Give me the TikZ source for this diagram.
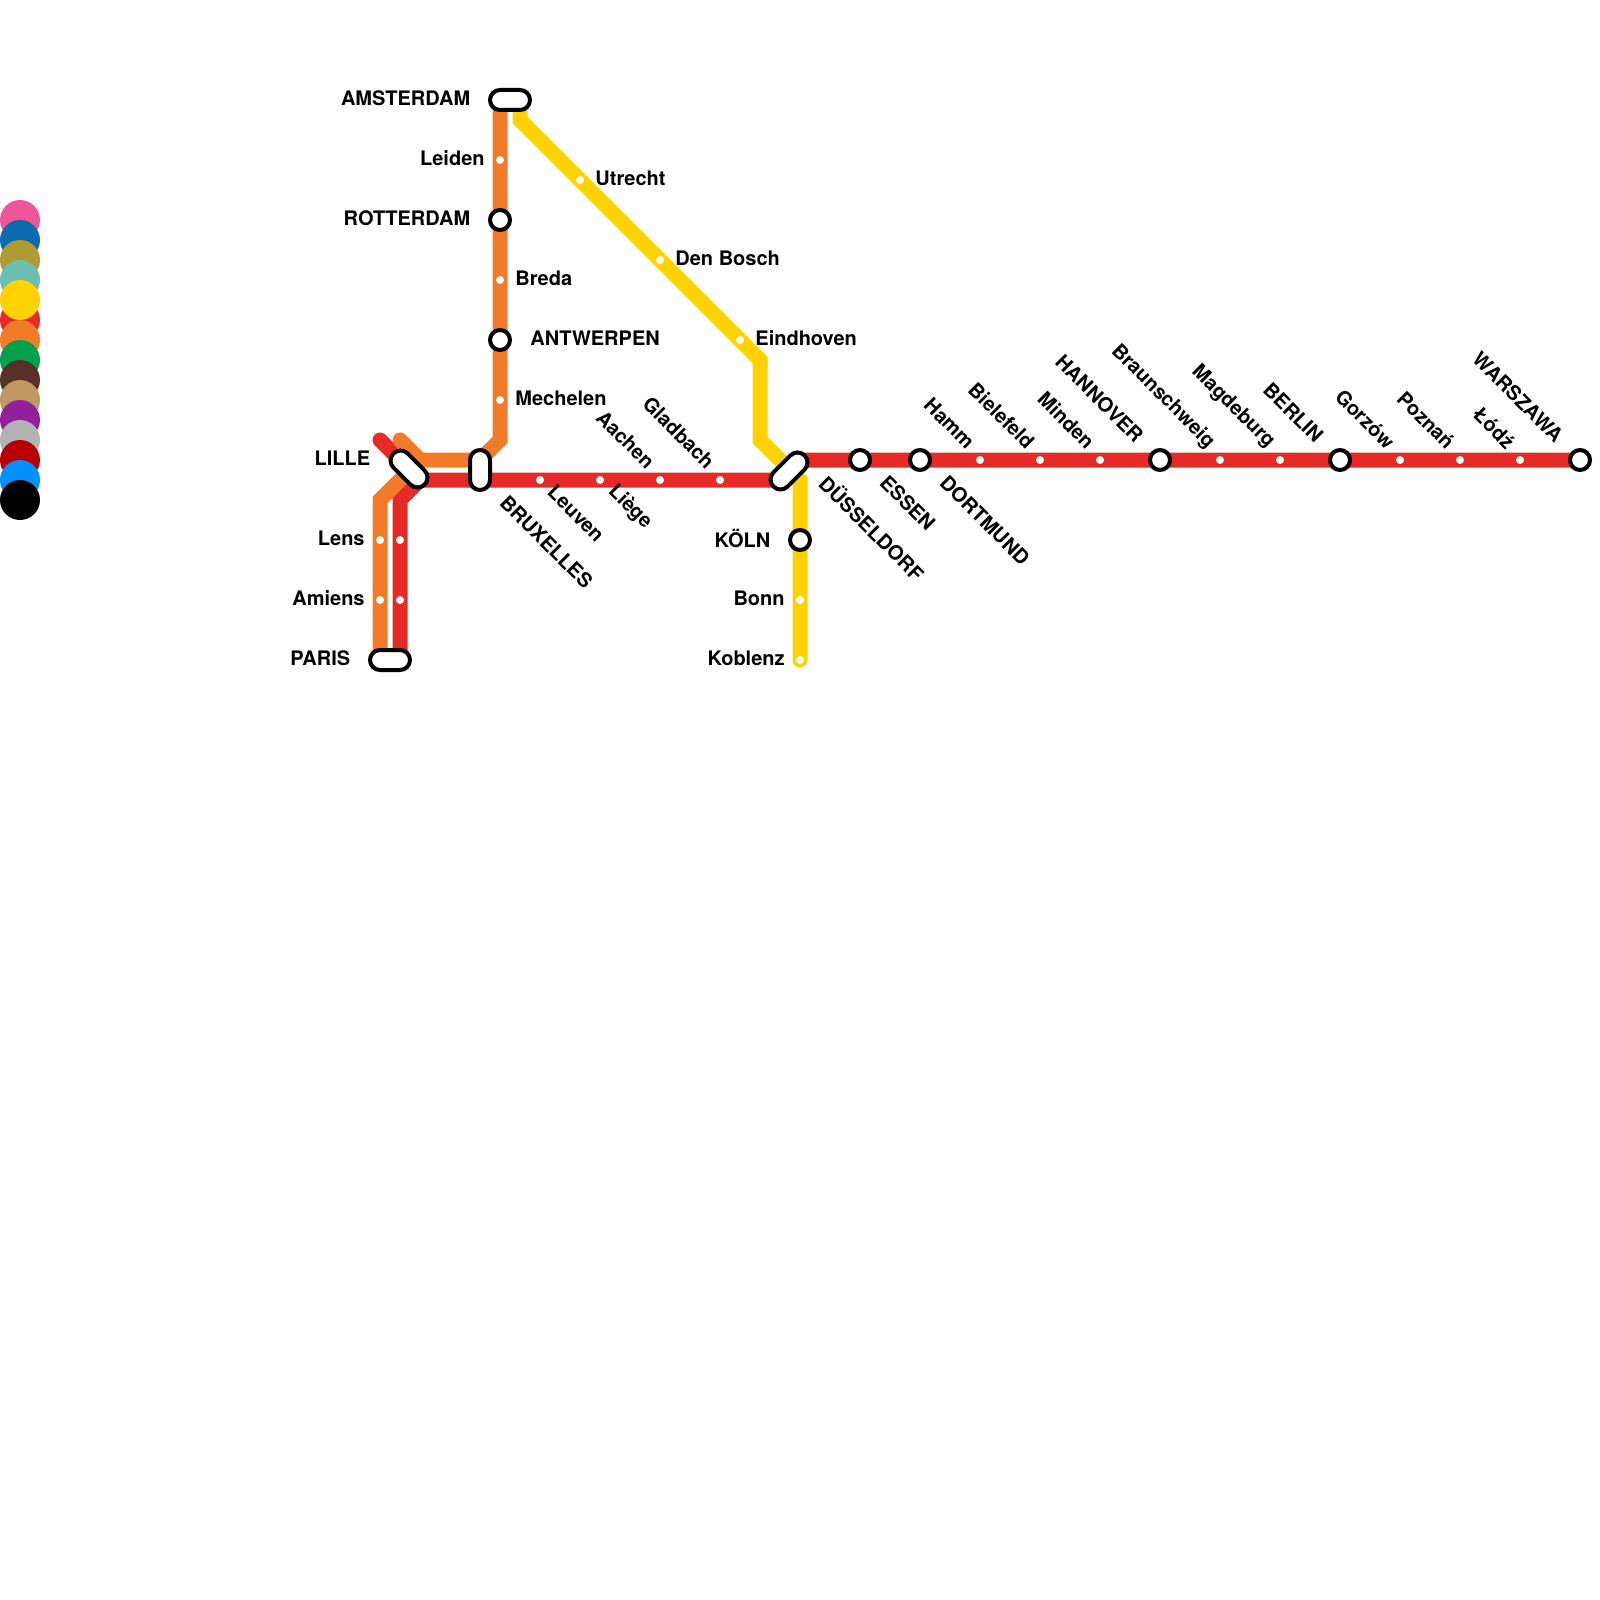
\documentclass[tikz,border=0pt]{standalone}
\usepackage{fontspec}
\setmainfont{TeX Gyre Heros}
\usetikzlibrary{positioning,backgrounds}
\definecolor{cpink}{HTML}{EF5599}
\definecolor{cblue}{HTML}{0A6BAE}
\definecolor{colive}{HTML}{B09A32}
\definecolor{cteal}{HTML}{6BBFB1}
\definecolor{cyellow}{HTML}{FFD205}
\definecolor{cred}{HTML}{E62B27}
\definecolor{corange}{HTML}{F37A28}
\definecolor{cgreen}{HTML}{00A04D}
\definecolor{cbrown}{HTML}{553127}
\definecolor{ctan}{HTML}{BF995F}
\definecolor{cpurple}{HTML}{92209A}
\definecolor{cgrey}{HTML}{B3B3B3}
\definecolor{cdarkred}{HTML}{B90000}
\definecolor{csky}{HTML}{0090FF}
\tikzset{
 legenddot/.style={circle, inner sep=0pt, minimum size=20pt},
 stop/.style={circle, fill=white, inner sep=0pt, minimum size=4pt},
 hub/.style={circle, draw=black, fill=white, line width=2pt, inner sep=0pt, minimum size=10pt},
 pill/.style={rectangle, rounded corners=5pt, draw=black, fill=white, line width=2pt,
 inner sep=0pt, minimum height=10pt, minimum width=20pt},
 pilld/.style={pill, minimum width=22pt},
 lbl/.style={font=\fontsize{10}{12}\selectfont\bfseries, inner sep=0pt},
 lblw/.style={lbl, anchor=east, xshift=-7.5pt, yshift=1pt},
 lble/.style={lbl, anchor=west, xshift=7.5pt, yshift=1pt},
 lblww/.style={lbl, anchor=east, xshift=-14.7pt, yshift=1pt},
 lblee/.style={lbl, anchor=west, xshift=15pt, yshift=1pt},
 lblup/.style={lbl, anchor=east, xshift=-4.35pt, yshift=7.35pt, rotate=-45},
 lblupp/.style={lbl, anchor=east, xshift=-10pt, yshift=10.4pt, rotate=-45},
 lbldn/.style={lbl, anchor=west, xshift=5.6pt, yshift=-4.25pt, rotate=-45},
 lbldnn/.style={lbl, anchor=west, xshift=11.75pt, yshift=-9.35pt, rotate=-45},
 metro/.style={line width=7.5pt, line cap=round, line join=miter},
}

\begin{document}
\begin{tikzpicture}[x=0.5pt, y=-0.5pt]
 \useasboundingbox (0,0) rectangle (1600,1600);
 % legend
 \node[legenddot, fill=cpink] (dotA) at (20,220) {};
 \node[legenddot, fill=cblue] (dotB) at (20,240) {};
 \node[legenddot, fill=colive] (dotC) at (20,260) {};
 \node[legenddot, fill=cteal] (dotD) at (20,280) {};
 \node[legenddot, fill=cred] (dotF) at (20,320) {};
 \node[legenddot, fill=cyellow] (dotE) at (20,300) {};
 \node[legenddot, fill=corange] (dotG) at (20,340) {};
 \node[legenddot, fill=cgreen] (dotH) at (20,360) {};
 \node[legenddot, fill=cbrown] (dotI) at (20,380) {};
 \node[legenddot, fill=ctan] (dotJ) at (20,400) {};
 \node[legenddot, fill=cpurple] (dotK) at (20,420) {};
 \node[legenddot, fill=cgrey] (dotL) at (20,440) {};
 \node[legenddot, fill=cdarkred] (dotM) at (20,460) {};
 \node[legenddot, fill=csky] (dotN) at (20,480) {};
 \node[legenddot, fill=black] (dotO) at (20,500) {};
 % pills and their line ends
 \coordinate (amsA) at (500,100); \coordinate (amsB) at (520,100);
 \coordinate (parA) at (380,660); \coordinate (parB) at (400,660);
 \coordinate (lilA) at (400,460); \coordinate (lilB) at (420,480);
 \coordinate (bruA) at (480,460); \coordinate (bruB) at (480,480);
 \coordinate (dusA) at (780,480); \coordinate (dusB) at (800,460);
 \node[pill] (AMS) at (510,100) {};
 \node[pill] (PAR) at (390,660) {};
 \node[pilld, rotate=-45] (LIL) at (409,469) {};
 \node[pill, rotate=90] (BRU) at (480,470) {};
 \node[pilld, rotate=45] (DUS) at (789,471) {};
 % bends
 \coordinate (orA) at (500,440); \coordinate (orB) at (420,460);
 \coordinate (orC) at (400,440); \coordinate (orD) at (380,500);
 \coordinate (reA) at (380,440); \coordinate (reB) at (400,500);
 \coordinate (yeA) at (520,120); \coordinate (yeB) at (760,360);
 \coordinate (yeC) at (760,440); \coordinate (yeD) at (800,480);
 % stops
 \node[stop] (LEI) at (500,160) {};
 \node[hub] (ROT) at (500,220) {};
 \node[stop] (BRE) at (500,280) {};
 \node[hub] (ANT) at (500,340) {};
 \node[stop] (MEC) at (500,400) {};
 \node[stop] (UTR) at (580,180) {};
 \node[stop] (BOS) at (660,260) {};
 \node[stop] (EIN) at (740,340) {};
 \node[stop] (LEO) at (380,540) {};
 \node[stop] (LER) at (400,540) {};
 \node[stop] (AMO) at (380,600) {};
 \node[stop] (AMR) at (400,600) {};
 \node[stop] (LEU) at (540,480) {};
 \node[stop] (LIE) at (600,480) {};
 \node[stop] (AAC) at (660,480) {};
 \node[stop] (GLA) at (720,480) {};
 \node[hub] (ESS) at (860,460) {};
 \node[hub] (DOR) at (920,460) {};
 \node[stop] (HAM) at (980,460) {};
 \node[stop] (BIE) at (1040,460) {};
 \node[stop] (MIN) at (1100,460) {};
 \node[hub] (HAN) at (1160,460) {};
 \node[stop] (BRA) at (1220,460) {};
 \node[stop] (MAG) at (1280,460) {};
 \node[hub] (BER) at (1340,460) {};
 \node[stop] (GOR) at (1400,460) {};
 \node[stop] (POZ) at (1460,460) {};
 \node[stop] (LOD) at (1520,460) {};
 \node[hub] (WAR) at (1580,460) {};
 \node[hub] (KOL) at (800,540) {};
 \node[stop] (BON) at (800,600) {};
 \node[stop] (KOB) at (800,660) {};
 % labels
 \node[lblww] (lAMS) at (amsA) {AMSTERDAM};
 \node[lblw] (lLEI) at (LEI) {Leiden};
 \node[lblww] (lROT) at (ROT) {ROTTERDAM};
 \node[lble] (lBRE) at (BRE) {Breda};
 \node[lblee] (lANT) at (ANT) {ANTWERPEN};
 \node[lble] (lMEC) at (MEC) {Mechelen};
 \node[lble] (lUTR) at (UTR) {Utrecht};
 \node[lble] (lBOS) at (BOS) {Den Bosch};
 \node[lble] (lEIN) at (EIN) {Eindhoven};
 \node[lblww] (lLIL) at (lilA) {LILLE};
 \node[lblw] (lLEN) at (LEO) {Lens};
 \node[lblw] (lAMI) at (AMO) {Amiens};
 \node[lblww] (lPAR) at (parA) {PARIS};
 \node[lblww] (lKOL) at (KOL) {KÖLN};
 \node[lblw] (lBON) at (BON) {Bonn};
 \node[lblw] (lKOB) at (KOB) {Koblenz};
 \node[lbldnn] (lBRU) at (bruB) {BRUXELLES};
 \node[lbldn] (lLEU) at (LEU) {Leuven};
 \node[lbldn] (lLIE) at (LIE) {Liège};
 \node[lblup] (lAAC) at (AAC) {Aachen};
 \node[lblup] (lGLA) at (GLA) {Gladbach};
 \node[lbldnn] (lDUS) at (dusB) {DÜSSELDORF};
 \node[lbldnn] (lESS) at (ESS) {ESSEN};
 \node[lbldnn] (lDOR) at (DOR) {DORTMUND};
 \node[lblup] (lHAM) at (HAM) {Hamm};
 \node[lblup] (lBIE) at (BIE) {Bielefeld};
 \node[lblup] (lMIN) at (MIN) {Minden};
 \node[lblupp] (lHAN) at (HAN) {HANNOVER};
 \node[lblup] (lBRA) at (BRA) {Braunschweig};
 \node[lblup] (lMAG) at (MAG) {Magdeburg};
 \node[lblupp] (lBER) at (BER) {BERLIN};
 \node[lblup] (lGOR) at (GOR) {Gorzów};
 \node[lblup] (lPOZ) at (POZ) {Poznań};
 \node[lblup] (lLOD) at (LOD) {Łódź};
 \node[lblupp] (lWAR) at (WAR) {WARSZAWA};
 % lines
 \begin{scope}[on background layer]
 \draw[metro, cred] (reA) -- (lilA) -- (lilB) -- (bruB) -- (LEU.center) -- (LIE.center) -- (AAC.center) -- (GLA.center) -- (dusA) -- (dusB) -- (ESS.center) -- (DOR.center) -- (HAM.center) -- (BIE.center) -- (MIN.center) -- (HAN.center) -- (BRA.center) -- (MAG.center) -- (BER.center) -- (GOR.center) -- (POZ.center) -- (LOD.center) -- (WAR.center);
 \draw[metro, cred] (parB) -- (AMR.center) -- (LER.center) -- (reB) -- (lilB);
 \draw[metro, corange] (amsA) -- (LEI.center) -- (ROT.center) -- (BRE.center) -- (ANT.center) -- (MEC.center) -- (orA) -- (bruA) -- (orB) -- (orC);
 \draw[metro, corange] (parA) -- (AMO.center) -- (LEO.center) -- (orD) -- (orB);
 \draw[metro, cyellow] (amsB) -- (yeA) -- (UTR.center) -- (BOS.center) -- (EIN.center) -- (yeB) -- (yeC) -- (yeD) -- (KOL.center) -- (BON.center) -- (KOB.center);
 \end{scope}
\end{tikzpicture}
\end{document}
